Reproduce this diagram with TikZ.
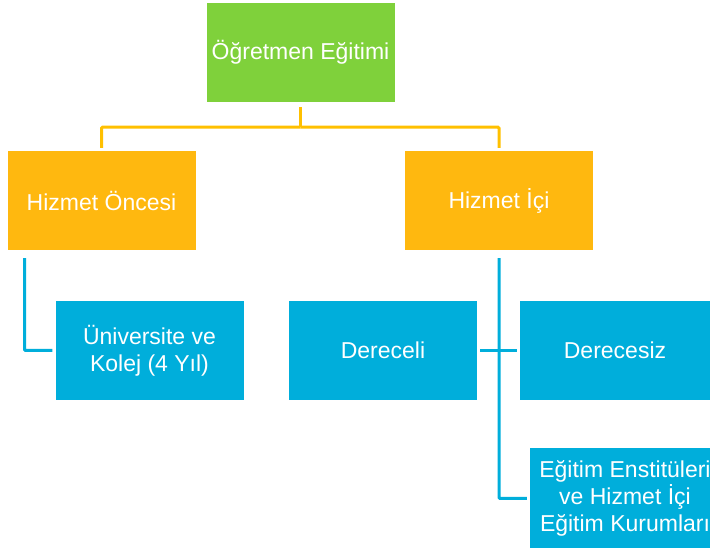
\documentclass[tikz,border=0pt]{standalone}
\usepackage{fontspec}
\setmainfont{Liberation Sans}
\usepackage{xcolor}
\usepackage{tikz}
\usetikzlibrary{positioning}

\definecolor{leafgreen}{HTML}{7FD13B}
\definecolor{amber}{HTML}{FFB80F}
\definecolor{amberline}{HTML}{FFC000}
\definecolor{skyblue}{HTML}{00AEDB}

\begin{document}
\begin{tikzpicture}[x=1pt, y=1pt, node distance=148pt]
\tikzstyle{box} = [rectangle, minimum width=188pt, minimum height=99pt, inner sep=0pt, text centered, text=white, font=\fontsize{23}{27}\selectfont]
\tikzstyle{greenbox} = [box, fill=leafgreen]
\tikzstyle{amberbox} = [box, fill=amber]
\tikzstyle{bluebox} = [box, fill=skyblue]
\tikzstyle{amberwire} = [draw=amberline, line width=3pt, rounded corners=1pt]
\tikzstyle{bluewire} = [draw=skyblue, line width=3pt, rounded corners=1pt]
\useasboundingbox (0,0) rectangle (710,549);

\node (root) [greenbox] at (300.5,496.5) {Öğretmen Eğitimi};
\node (pre)  [amberbox, below of=root, xshift=-199pt] {Hizmet Öncesi};
\node (in)   [amberbox, below of=root, xshift=198.5pt] {Hizmet İçi};
\node (uni)  [bluebox, align=center, below of=pre, xshift=48pt, yshift=-2pt] {Üniversite ve\\Kolej (4 Yıl)};
\node (der)  [bluebox, below of=in, xshift=-116pt, yshift=-2pt] {Dereceli};
\node (dsz)  [bluebox, minimum width=190pt, below of=in, xshift=116pt, yshift=-2pt] {Derecesiz};
\node (egt)  [bluebox, align=center, minimum width=190pt, minimum height=100pt, below of=in, xshift=126pt, yshift=-150pt] {Eğitim Enstitüleri\\ve Hizmet İçi\\Eğitim Kurumları};

\coordinate (fork) at ([yshift=-25pt]root.south);
\draw [amberwire] ([yshift=-5pt]root.south) -- (fork);
\draw [amberwire] (fork) -| ([yshift=3pt]pre.north);
\draw [amberwire] (fork) -| ([yshift=3pt]in.north);

\draw [bluewire] ([xshift=-77pt, yshift=-8pt]pre.south) |- ([xshift=-3pt]uni.west);
\draw [bluewire] ([yshift=-8pt]in.south) |- ([xshift=-3pt]egt.west);
\draw [bluewire] ([xshift=3pt]der.east) -- ([xshift=-3pt]dsz.west);

\end{tikzpicture}
\end{document}
